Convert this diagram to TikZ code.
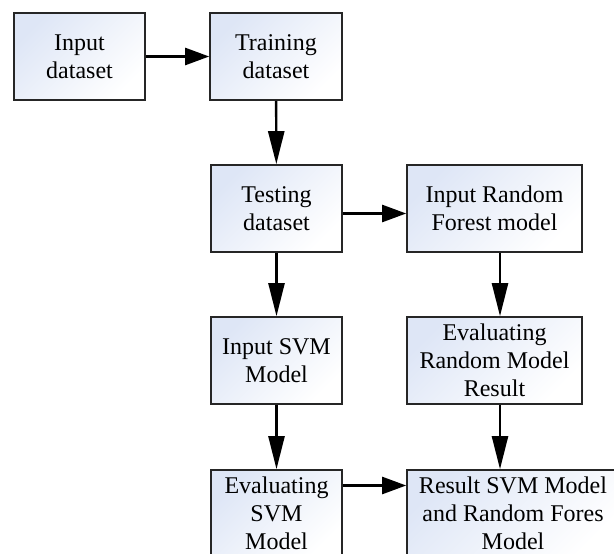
\documentclass[tikz,border=0pt]{standalone}
\usepackage{fontspec}
\setmainfont{Liberation Serif}
\usetikzlibrary{arrows.meta}
\definecolor{boxtop}{RGB}{222,230,246}
\tikzset{
  box/.style={draw=black!85, line width=1.6pt, shading=axis, top color=boxtop, bottom color=white, shading angle=45,
    inner sep=0pt, align=center, font=\fontsize{24}{28}\selectfont},
  harr/.style={line width=2.4pt, -{Triangle[length=24pt,width=17pt]}},
  varr/.style={line width=2.4pt, -{Triangle[length=33pt,width=16pt]}}
}
\begin{document}
\begin{tikzpicture}[x=1pt,y=-1pt]
\useasboundingbox (0,0) rectangle (614,554);
\node[box, minimum width=131pt, minimum height=87pt] (in) at (79.5,56.5) {Input\\dataset};
\node[box, minimum width=132pt, minimum height=87pt] (train) at (276,56.5) {Training\\dataset};
\node[box, minimum width=131pt, minimum height=87pt] (test) at (276.5,208.5) {Testing\\dataset};
\node[box, minimum width=175pt, minimum height=87pt] (rf) at (494.5,208.5) {Input Random\\Forest model};
\node[box, minimum width=131pt, minimum height=87pt] (svm) at (276.5,360.5) {Input SVM\\Model};
\node[box, minimum width=175pt, minimum height=87pt] (evrf) at (494.5,360.5) {Evaluating\\Random Model\\Result};
\node[box, minimum width=131pt, minimum height=87pt] (evsvm) at (276.5,513.5) {Evaluating\\SVM\\Model};
\node[box, minimum width=212pt, minimum height=87pt] (res) at (513,513.5) {Result SVM Model\\and Random Fores\\Model};
\draw[harr] (in) -- (train);
\draw[varr] (train) -- (test);
\draw[harr] ([yshift=-5pt]test.east) -- ([yshift=-5pt]rf.west);
\draw[varr] (test) -- (svm);
\draw[varr] ([xshift=5.5pt]rf.south) -- ([xshift=5.5pt]evrf.north);
\draw[varr] (svm) -- (evsvm);
\draw[varr] ([xshift=5.5pt]evrf.south) -- ([xshift=5.5pt]evrf.south |- res.north);
\draw[harr] ([yshift=28pt]evsvm.east) -- ([yshift=28pt]res.west);
\end{tikzpicture}
\end{document}
